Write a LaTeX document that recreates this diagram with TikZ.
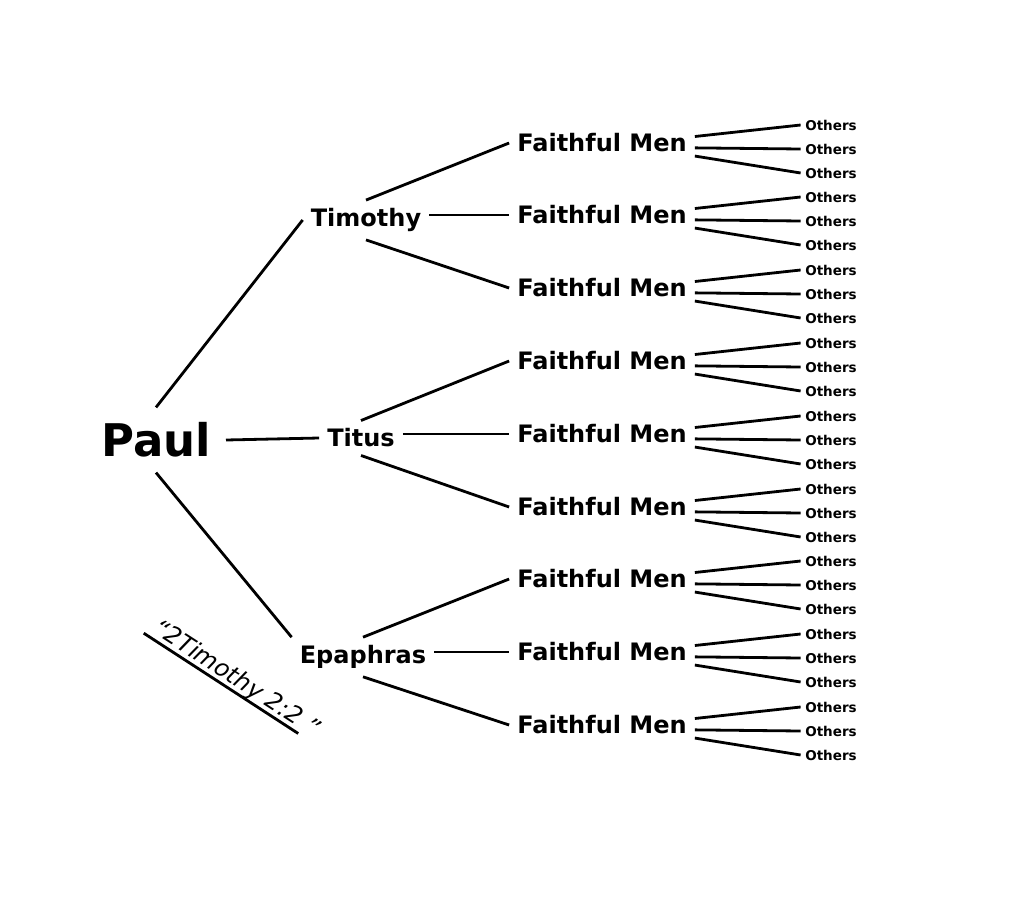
\documentclass[tikz,border=0pt]{standalone}
\usepackage{fontspec}
\newfontfamily\namefont{DejaVu Sans}
\usepackage{tikz}
\usetikzlibrary{positioning, calc}
\tikzstyle{apostle} = [inner sep=15pt, font=\namefont\bfseries\fontsize{45}{54}\selectfont]
\tikzstyle{disciple} = [inner sep=8pt, font=\namefont\bfseries\fontsize{24}{29}\selectfont]
\tikzstyle{faithful} = [inner sep=8pt, font=\namefont\bfseries\fontsize{24}{29}\selectfont]
\tikzstyle{others} = [inner sep=4.5pt, font=\namefont\bfseries\fontsize{13.5}{16}\selectfont]
\tikzstyle{verse} = [inner xsep=6pt, inner ysep=0pt, font=\namefont\itshape\fontsize{24}{29}\selectfont]
\tikzstyle{link} = [line width=2.8pt]

\begin{document}
\begin{tikzpicture}[x=1pt,y=-1pt]
   \useasboundingbox[fill=white] (0,0) rectangle (1023,910);
   \node[apostle] (paul) at (156,440) {Paul};
   \node[disciple] (timothy) at (366,220) {Timothy};
   \node[disciple] (titus) at (361,438) {Titus};
   \node[disciple] (epaphras) at (363,657) {Epaphras};
   \draw[link] (paul.north) -- (timothy.west);
   \draw[link] (paul.east) -- (titus.west);
   \draw[link] (paul.south) -- (epaphras.north west);
   % faithful men, each with three others
   \foreach \i/\y in {1/143,2/215,3/288,4/361,5/434,6/507,7/579,8/652,9/725} {
     \node[faithful] (men\i) at (602,\y) {Faithful Men};
     \foreach \j/\dy/\ang in {1/-18/4,2/6/-3,3/30/-8} {
       \node[others] (others\i\j) at (831,\y+\dy) {Others};
       \draw[link] (men\i.\ang) -- (others\i\j.west);
     }
   }
   \draw[link] (timothy.north) -- (men1.west);
   \draw[link] (men2.west -| timothy.east) -- (men2.west);
   \draw[link] (timothy.south) -- (men3.west);
   \draw[link] (titus.north) -- (men4.west);
   \draw[link] (men5.west -| titus.east) -- (men5.west);
   \draw[link] (titus.south) -- (men6.west);
   \draw[link] (epaphras.north) -- (men7.west);
   \draw[link] (men8.west -| epaphras.east) -- (men8.west);
   \draw[link] (epaphras.south) -- (men9.west);
   % the verse, underlined
   \node[verse,rotate=-33] (verse) at (236,679) {“2Timothy 2:2 ”};
   \draw[link] (verse.south west) -- ($(verse.south west)!0.9!(verse.south east)$);
\end{tikzpicture}
\end{document}
